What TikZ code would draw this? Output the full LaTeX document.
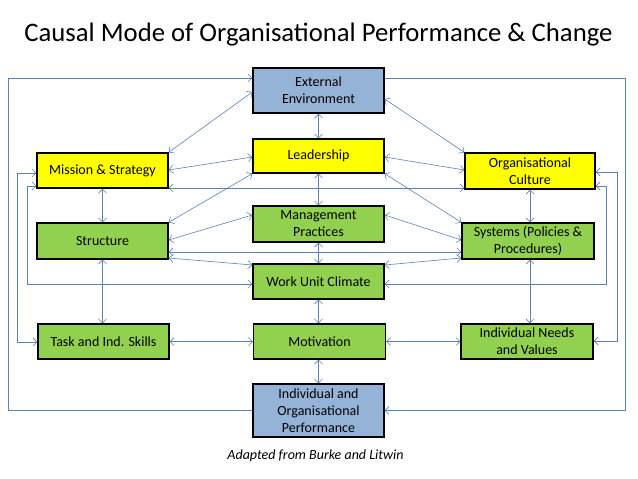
\documentclass[tikz,border=0pt]{standalone}
\usepackage{fontspec}
\setmainfont{Carlito}
\usetikzlibrary{arrows.meta}
\definecolor{linkc}{HTML}{5B82B4}
\definecolor{bluef}{HTML}{95B3D7}
\definecolor{yellowf}{HTML}{FFFF00}
\definecolor{greenf}{HTML}{92D050}
\tikzset{
  boxn/.style={draw=black, line width=1.3pt, minimum width=131pt, minimum height=35pt,
    inner sep=0pt, align=center, font=\fontsize{14}{17}\selectfont},
  bluebox/.style={boxn, fill=bluef},
  yelbox/.style={boxn, fill=yellowf},
  grnbox/.style={boxn, fill=greenf},
  link/.style={draw=linkc, line width=0.6pt, arrows={Straight Barb[length=4pt,width=8pt]-Straight Barb[length=4pt,width=8pt]}},
  lnk/.style={draw=linkc, line width=0.6pt, -{Straight Barb[length=4pt,width=8pt]}},
}
\begin{document}
\begin{tikzpicture}[x=1pt,y=-1pt]
\useasboundingbox (0,0) rectangle (638,479);
\node[font=\fontsize{26.7}{30}\selectfont] (title) at (318.5,35) {Causal Mode of Organisational Performance \& Change};
% centre column
\node[bluebox, minimum height=45pt] (ext) at (318.5,90.5) {External\\Environment};
\node[yelbox, minimum height=34pt] (lead) at (318.5,156) {Leadership};
\node[grnbox, minimum height=36pt] (mgmt) at (318.5,224) {Management\\Practices};
\node[grnbox] (wuc) at (318.5,281.5) {Work Unit Climate};
\node[grnbox, minimum width=132pt] (mot) at (319.5,341.5) {Motivation};
\node[bluebox, minimum height=53pt] (perf) at (318.5,410.5) {Individual and\\Organisational\\Performance};
% left column
\node[yelbox] (mis) at (102.5,170.5) {Mission \& Strategy};
\node[grnbox, minimum height=36pt] (str) at (102.5,241) {Structure};
\node[grnbox] (task) at (103.5,341.5) {Task and Ind. Skills};
% right column
\node[yelbox, minimum width=130pt, minimum height=36pt] (cul) at (530,171) {Organisational\\Culture};
\node[grnbox, minimum width=132pt, minimum height=36pt] (sys) at (528,241) {Systems (Policies \&\\Procedures)};
\node[grnbox, minimum width=132pt] (need) at (527,341.5) {Individual Needs\\and Values};
% caption
\node[font=\fontsize{14}{16}\selectfont\itshape] (cap) at (315.5,456) {Adapted from Burke and Litwin};
% outer feedback loops
\draw[lnk] (perf.west) -- (8,410.5) -- (8,78) -- (ext.west |- 0,78);
\draw[lnk] (ext.east |- 0,78) -- (625,78) -- (625,410.5) -- (perf.east);
% left brackets
\draw[link] (mis.west |- 0,173) -- (17,173) -- (17,342) -- (task.west |- 0,342);
\draw[link] (mis.west |- 0,186) -- (27,186) -- (27,284) -- (wuc.west |- 0,284);
% right brackets
\draw[link] (cul.east |- 0,172) -- (617,172) -- (617,341) -- (need.east |- 0,341);
\draw[link] (cul.east |- 0,186) -- (606,186) -- (606,284) -- (wuc.east |- 0,284);
% long horizontals
\draw[link] (mis.east |- 0,188) -- (cul.west |- 0,188);
\draw[link] (str.east |- 0,252) -- (sys.west |- 0,252);
% diagonals
\draw[link] (ext.west |- 0,92) -- (mis.north east);
\draw[link] (ext.east |- 0,99) -- (cul.north west);
\draw[link] (lead.west |- 0,157) -- (mis.east |- 0,170);
\draw[link] (lead.east |- 0,157) -- (cul.west |- 0,170);
\draw[link] (lead.south west) -- (str.north east);
\draw[link] (lead.south east) -- (sys.north west);
\draw[link] (mgmt.west |- 0,215) -- (str.east |- 0,240);
\draw[link] (mgmt.east |- 0,215) -- (sys.west |- 0,240);
\draw[link] (str.east |- 0,258) -- (wuc.west |- 0,265);
\draw[link] (wuc.east |- 0,265) -- (sys.west |- 0,258);
% verticals centre
\draw[link] (ext.south) -- (lead.north);
\draw[link] (lead.south) -- (mgmt.north);
\draw[link] (mgmt.south) -- (wuc.north);
\draw[link] (wuc.south) -- (wuc.south |- mot.north);
\draw[link] (wuc.south |- mot.south) -- (perf.north);
% verticals sides
\draw[link] (mis.south) -- (str.north);
\draw[link] (str.south) -- (str.south |- task.north);
\draw[link] (cul.south) -- (cul.south |- sys.north);
\draw[link] (cul.south |- sys.south) -- (cul.south |- need.north);
% bottom horizontals
\draw[link] (task.east) -- (mot.west);
\draw[link] (mot.east) -- (need.west);
\end{tikzpicture}
\end{document}
